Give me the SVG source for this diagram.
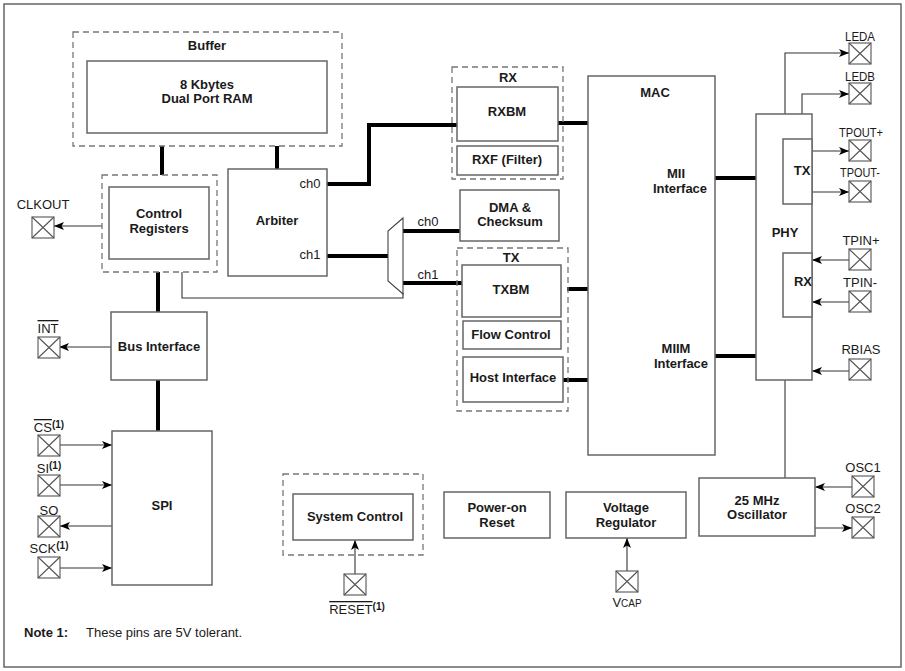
<svg xmlns="http://www.w3.org/2000/svg" width="905" height="671" viewBox="0 0 905 671">
<style>
  .box{fill:#fff;stroke:#666;stroke-width:1.5}
  .dash{fill:none;stroke:#777;stroke-width:1.3;stroke-dasharray:6 4}
  .thick{fill:none;stroke:#000;stroke-width:4}
  .thin{fill:none;stroke:#333;stroke-width:1.1}
  .pin{fill:#fff;stroke:#555;stroke-width:1.1}
  .b{font-family:"Liberation Sans",Arial,sans-serif;font-weight:bold;font-size:13px;fill:#1a1a1a;text-anchor:middle}
  .r{font-family:"Liberation Sans",Arial,sans-serif;font-size:13px;fill:#1a1a1a;text-anchor:middle}
  .sup{font-size:10px;font-weight:bold}
  .ol{text-decoration:overline}
  .note{font-family:"Liberation Sans",Arial,sans-serif;font-size:13px;fill:#1a1a1a}
</style>
<defs>
  <marker id="ah" viewBox="0 0 10 8" refX="10" refY="4" markerWidth="11" markerHeight="8" markerUnits="userSpaceOnUse" orient="auto">
    <path d="M0,0 L10,4 L0,8 L2.5,4 Z" fill="#000"/>
  </marker>
  <g id="pinx">
    <rect class="pin" x="0" y="0" width="22" height="21"/>
    <path class="pin" d="M0,0 L22,21 M22,0 L0,21"/>
  </g>
</defs>
<rect x="4" y="4" width="897" height="663" fill="#fff" stroke="#666" stroke-width="1.5"/>

<g id="connectors">
  <path class="thick" d="M162,146 V175"/>
  <path class="thick" d="M277,146 V169"/>
  <path class="thick" d="M158,272 V312"/>
  <path class="thick" d="M158,380 V431"/>
  <path class="thick" d="M327,184 H369 V125 H457"/>
  <path class="thick" d="M327,256 H388"/>
  <path class="thick" d="M403,231 H460"/>
  <path class="thick" d="M403,283 H462"/>
  <path class="thick" d="M558,123 H588"/>
  <path class="thick" d="M567,289 H588"/>
  <path class="thick" d="M563,380 H588"/>
  <path class="thick" d="M715,178 H756"/>
  <path class="thick" d="M715,356 H756"/>
  <path class="thin" d="M182,272 V298 H403 V293"/>
  <path class="thin" d="M102,226 H54" marker-end="url(#ah)"/>
  <path class="thin" d="M111,347 H59" marker-end="url(#ah)"/>
  <path class="thin" d="M60,445 H112" marker-end="url(#ah)"/>
  <path class="thin" d="M60,485 H112" marker-end="url(#ah)"/>
  <path class="thin" d="M112,526 H60" marker-end="url(#ah)"/>
  <path class="thin" d="M60,568 H112" marker-end="url(#ah)"/>
  <path class="thin" d="M785,114 V53 H849" marker-end="url(#ah)"/>
  <path class="thin" d="M802,114 V94 H849" marker-end="url(#ah)"/>
  <path class="thin" d="M812,151 H849" marker-end="url(#ah)"/>
  <path class="thin" d="M812,192 H849" marker-end="url(#ah)"/>
  <path class="thin" d="M849,260 H812" marker-end="url(#ah)"/>
  <path class="thin" d="M849,302 H812" marker-end="url(#ah)"/>
  <path class="thin" d="M849,371 H812" marker-end="url(#ah)"/>
  <path class="thin" d="M785,380 V478"/>
  <path class="thin" d="M852,487 H815" marker-end="url(#ah)"/>
  <path class="thin" d="M815,528 H852" marker-end="url(#ah)"/>
  <path class="thin" d="M355,574 V540" marker-end="url(#ah)"/>
  <path class="thin" d="M627,571 V538" marker-end="url(#ah)"/>
</g>

<g id="buffer">
  <rect class="dash" x="73" y="32" width="269" height="114"/>
  <text class="b" x="207" y="50">Buffer</text>
</g>
<g id="ram">
  <rect class="box" x="87" y="61" width="240" height="72"/>
  <text class="b" x="207" y="89">8 Kbytes</text>
  <text class="b" x="207" y="103">Dual Port RAM</text>
</g>
<g id="control-registers">
  <rect class="dash" x="102" y="175" width="115" height="97"/>
  <rect class="box" x="109" y="187" width="100" height="72"/>
  <text class="b" x="159" y="218">Control</text>
  <text class="b" x="159" y="233">Registers</text>
</g>
<g id="arbiter">
  <rect class="box" x="228" y="169" width="99" height="107"/>
  <text class="b" x="277" y="225">Arbiter</text>
  <text class="r" x="310" y="188">ch0</text>
  <text class="r" x="310" y="259">ch1</text>
</g>
<g id="mux">
  <path d="M403,218 L388,231 L388,281 L403,294 Z" fill="#fff" stroke="#444" stroke-width="1.1"/>
  <text class="r" x="428" y="226">ch0</text>
  <text class="r" x="428" y="279">ch1</text>
</g>
<g id="bus-interface">
  <rect class="box" x="111" y="312" width="96" height="68"/>
  <text class="b" x="159" y="351">Bus Interface</text>
</g>
<g id="spi">
  <rect class="box" x="112" y="431" width="100" height="154"/>
  <text class="b" x="162" y="510">SPI</text>
</g>
<g id="rx">
  <rect class="dash" x="452" y="67" width="111" height="112"/>
  <text class="b" x="508" y="82">RX</text>
  <rect class="box" x="457" y="87" width="101" height="54"/>
  <text class="b" x="507" y="116">RXBM</text>
  <rect class="box" x="457" y="146" width="101" height="29"/>
  <text class="b" x="507" y="164">RXF (Filter)</text>
</g>
<g id="dma">
  <rect class="box" x="460" y="190" width="99" height="51"/>
  <text class="b" x="510" y="212">DMA &amp;</text>
  <text class="b" x="510" y="226">Checksum</text>
</g>
<g id="tx">
  <rect class="dash" x="457" y="248" width="111" height="163"/>
  <text class="b" x="511" y="262">TX</text>
  <rect class="box" x="462" y="265" width="99" height="52"/>
  <text class="b" x="511" y="294">TXBM</text>
  <rect class="box" x="463" y="321" width="98" height="28"/>
  <text class="b" x="511" y="339">Flow Control</text>
  <rect class="box" x="463" y="357" width="100" height="45"/>
  <text class="b" x="513" y="382">Host Interface</text>
</g>
<g id="mac">
  <rect class="box" x="588" y="76" width="127" height="379"/>
  <text class="b" x="655" y="97">MAC</text>
  <text class="b" x="676" y="178">MII</text>
  <text class="b" x="680" y="193">Interface</text>
  <text class="b" x="676" y="353">MIIM</text>
  <text class="b" x="681" y="368">Interface</text>
</g>
<g id="phy">
  <rect class="box" x="756" y="114" width="56" height="266"/>
  <text class="b" x="785" y="237">PHY</text>
  <rect class="box" x="783" y="139" width="29" height="65"/>
  <text class="b" x="802" y="175">TX</text>
  <rect class="box" x="783" y="253" width="29" height="64"/>
  <text class="b" x="803" y="286">RX</text>
</g>
<g id="oscillator">
  <rect class="box" x="699" y="478" width="116" height="58"/>
  <text class="b" x="757" y="505">25 MHz</text>
  <text class="b" x="757" y="519">Oscillator</text>
</g>
<g id="system-control">
  <rect class="dash" x="283" y="474" width="140" height="81"/>
  <rect class="box" x="293" y="494" width="120" height="46"/>
  <text class="b" x="355" y="521">System Control</text>
</g>
<g id="power-on-reset">
  <rect class="box" x="444" y="492" width="106" height="46"/>
  <text class="b" x="497" y="512">Power-on</text>
  <text class="b" x="497" y="527">Reset</text>
</g>
<g id="voltage-regulator">
  <rect class="box" x="566" y="492" width="120" height="46"/>
  <text class="b" x="626" y="512">Voltage</text>
  <text class="b" x="626" y="527">Regulator</text>
</g>

<g id="pin-clkout"><use href="#pinx" x="32" y="217"/><text class="r" x="43" y="209">CLKOUT</text></g>
<g id="pin-int"><use href="#pinx" x="38" y="337"/><text class="r" x="48" y="333"><tspan class="ol">INT</tspan></text></g>
<g id="pin-cs"><use href="#pinx" x="38" y="435"/><text class="r" x="49" y="432"><tspan class="ol">CS</tspan><tspan class="sup" dy="-4">(1)</tspan></text></g>
<g id="pin-si"><use href="#pinx" x="38" y="475"/><text class="r" x="49" y="473">SI<tspan class="sup" dy="-4">(1)</tspan></text></g>
<g id="pin-so"><use href="#pinx" x="38" y="516"/><text class="r" x="49" y="515">SO</text></g>
<g id="pin-sck"><use href="#pinx" x="38" y="557"/><text class="r" x="49" y="553">SCK<tspan class="sup" dy="-4">(1)</tspan></text></g>
<g id="pin-leda"><use href="#pinx" x="849" y="43"/><text class="r" x="860" y="41" textLength="30" lengthAdjust="spacingAndGlyphs">LEDA</text></g>
<g id="pin-ledb"><use href="#pinx" x="849" y="83"/><text class="r" x="860" y="81" textLength="30" lengthAdjust="spacingAndGlyphs">LEDB</text></g>
<g id="pin-tpoutp"><use href="#pinx" x="849" y="140"/><text class="r" x="861" y="137" textLength="44" lengthAdjust="spacingAndGlyphs">TPOUT+</text></g>
<g id="pin-tpoutm"><use href="#pinx" x="849" y="181"/><text class="r" x="860" y="177" textLength="40" lengthAdjust="spacingAndGlyphs">TPOUT-</text></g>
<g id="pin-tpinp"><use href="#pinx" x="849" y="249"/><text class="r" x="861" y="245">TPIN+</text></g>
<g id="pin-tpinm"><use href="#pinx" x="849" y="291"/><text class="r" x="860" y="287">TPIN-</text></g>
<g id="pin-rbias"><use href="#pinx" x="849" y="359"/><text class="r" x="861" y="354">RBIAS</text></g>
<g id="pin-osc1"><use href="#pinx" x="852" y="476"/><text class="r" x="863" y="472">OSC1</text></g>
<g id="pin-osc2"><use href="#pinx" x="852" y="517"/><text class="r" x="863" y="513">OSC2</text></g>
<g id="pin-reset"><use href="#pinx" x="344" y="574"/><text class="r" x="357" y="614"><tspan class="ol">RESET</tspan><tspan class="sup" dy="-4">(1)</tspan></text></g>
<g id="pin-vcap"><use href="#pinx" x="616" y="571"/><text class="r" x="627" y="607">V<tspan style="font-size:10px">CAP</tspan></text></g>

<g id="note">
  <text class="note" x="24" y="637" font-weight="bold">Note 1:</text>
  <text class="note" x="86" y="637">These pins are 5V tolerant.</text>
</g>
</svg>
